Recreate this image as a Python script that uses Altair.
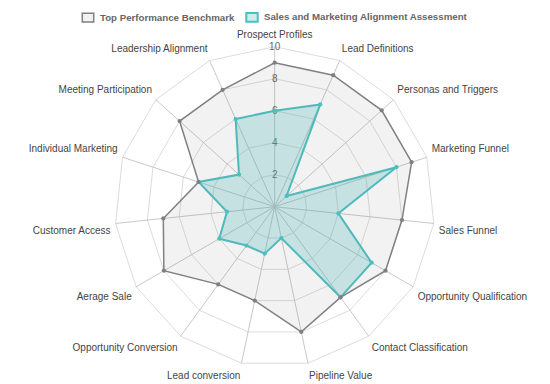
import altair as alt
import pandas as pd

categories = ["Prospect Profiles", "Lead Definitions", "Personas and Triggers",
              "Marketing Funnel", "Sales Funnel", "Opportunity Qualification",
              "Contact Classification", "Pipeline Value", "Lead conversion",
              "Opportunity Conversion", "Aerage Sale", "Customer Access",
              "Individual Marketing", "Meeting Participation", "Leadership Alignment"]
benchmark = [9, 9, 9, 9, 8, 8, 7, 8, 6, 6, 8, 7, 5, 8, 8]
assessment = [6, 7, 1, 8, 4, 7, 7, 2, 3, 3, 4, 3, 5, 3, 6]
series_names = ["Top Performance Benchmark", "Sales and Marketing Alignment Assessment"]
tick_values = [2, 4, 6, 8, 10]

N = len(categories)
STEP = 360.0 / N
R_MAX = 10
LABEL_R = 10.32

W, H = 534, 376
xdom = [-16.67, 16.71]
ydom = [-11.08, 12.42]
xs = alt.Scale(domain=xdom, nice=False, zero=False)
ys = alt.Scale(domain=ydom, nice=False, zero=False)
X = lambda f: alt.X(f, type="quantitative", scale=xs, axis=None)
Y = lambda f: alt.Y(f, type="quantitative", scale=ys, axis=None)

ring_rows = []
for t in tick_values:
    for i in range(N):
        ring_rows.append({"ring": t, "idx": i})
rings = pd.DataFrame(ring_rows)

spokes = pd.DataFrame({"idx": list(range(N)), "r": [R_MAX] * N})
ticks = pd.DataFrame({"v": tick_values})

rows = []
for s, vals in [(series_names[1], assessment), (series_names[0], benchmark)]:
    for i, v in enumerate(vals):
        rows.append({"series": s, "idx": i, "category": categories[i], "value": v})
data = pd.DataFrame(rows)

labels = pd.DataFrame({"idx": list(range(N)), "category": categories})

ang = "datum.idx * %f * PI / 180" % STEP

base_ring = alt.Chart(rings).transform_calculate(
    x="datum.ring * sin(%s)" % ang, y="datum.ring * cos(%s)" % ang
).mark_line(interpolate="linear-closed", stroke="#dcdcdc", strokeWidth=1).encode(
    x=X("x:Q"), y=Y("y:Q"), detail="ring:N", order="idx:Q")

spoke = alt.Chart(spokes).transform_calculate(
    x="datum.r * sin(%s)" % ang, y="datum.r * cos(%s)" % ang, z="0"
).mark_rule(stroke="#c8c8c8", strokeWidth=1).encode(
    x=X("z:Q"), y=Y("z:Q"), x2="x:Q", y2="y:Q")

tick_text = alt.Chart(ticks).transform_calculate(z="0").mark_text(
    fontSize=10, color="#666", font="Liberation Sans", align="center", baseline="middle"
).encode(x=X("z:Q"), y=Y("v:Q"), text="v:Q")

stroke_scale = alt.Scale(domain=series_names, range=["#808080", "#4bc0c0"])
fill_scale = alt.Scale(domain=series_names,
                       range=["rgba(128,128,128,0.1)", "rgba(75,192,192,0.28)"])
width_scale = alt.Scale(domain=series_names, range=[1.5, 2])

legend = alt.Legend(title=None, orient="none", legendX=73, legendY=2,
                    direction="horizontal", columns=2,
                    symbolType="M-1,-0.75L1,-0.75L1,0.75L-1,0.75Z", symbolSize=130,
                    symbolStrokeWidth=1, labelFont="Liberation Sans", labelFontSize=9.7,
                    labelFontWeight="bold", labelColor="#666", labelOffset=5,
                    columnPadding=7, labelLimit=400)

poly = alt.Chart(data).transform_calculate(
    x="datum.value * sin(%s)" % ang, y="datum.value * cos(%s)" % ang
).mark_line(interpolate="linear-closed").encode(
    x=X("x:Q"), y=Y("y:Q"), order="idx:Q",
    stroke=alt.Stroke("series:N", scale=stroke_scale, legend=legend),
    fill=alt.Fill("series:N", scale=fill_scale, legend=legend),
    strokeWidth=alt.StrokeWidth("series:N", scale=width_scale, legend=None))

pts = alt.Chart(data).transform_calculate(
    x="datum.value * sin(%s)" % ang, y="datum.value * cos(%s)" % ang
).mark_circle(size=18, opacity=1).encode(
    x=X("x:Q"), y=Y("y:Q"),
    color=alt.Color("series:N", scale=stroke_scale, legend=None))

lab_base = alt.Chart(labels).transform_calculate(
    a="datum.idx * %f" % STEP,
    x="%f * sin(%s)" % (LABEL_R, ang), y="%f * cos(%s)" % (LABEL_R, ang))

label_layers = []
for cond, align, baseline, dy in [
    ("datum.a == 0", "center", "bottom", -2),
    ("datum.a > 0 && datum.a < 90", "left", "bottom", -1.5),
    ("datum.a > 90 && datum.a < 180", "left", "top", 2.5),
    ("datum.a > 180 && datum.a < 270", "right", "top", 2.5),
    ("datum.a > 270", "right", "bottom", -1.5),
]:
    label_layers.append(lab_base.transform_filter(cond).mark_text(
        fontSize=10, color="#444", font="Liberation Sans", align=align,
        baseline=baseline, dy=dy
    ).encode(x=X("x:Q"), y=Y("y:Q"), text="category:N"))

chart = alt.layer(base_ring, spoke, tick_text, poly, pts, *label_layers).properties(
    width=W, height=H, padding=0, autosize=alt.AutoSizeParams(type="none")
).configure_view(stroke=None)

chart.save("out.html", embed_options={"renderer": "svg", "actions": False})
